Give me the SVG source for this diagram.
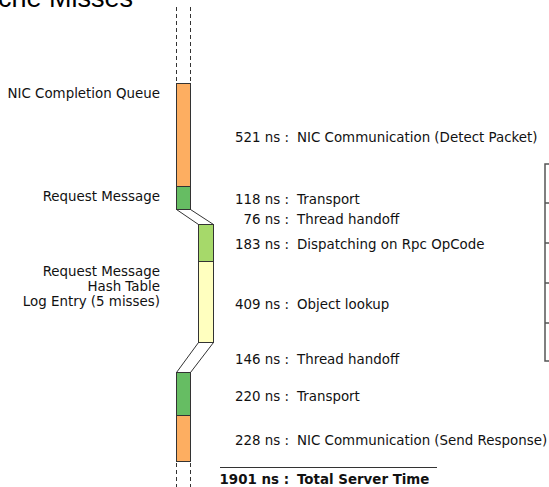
<svg xmlns="http://www.w3.org/2000/svg" width="549" height="487" viewBox="0 0 549 487">
<style>
.t{font-family:"DejaVu Sans",sans-serif;font-size:13.4px;fill:#111}
.b{font-weight:bold}
.e{text-anchor:end}
.box{stroke:#333;stroke-width:1}
.dash{stroke:#333;stroke-width:1;stroke-dasharray:4 3;fill:none}
.link{fill:#fff;stroke:#333;stroke-width:1}
.br{fill:none;stroke:#555;stroke-width:1.5}
</style>
<rect width="549" height="487" fill="#fff"/>
<text x="133" y="7" style="font-family:'Liberation Sans',Arial,sans-serif;font-size:27px;fill:#000;text-anchor:end">Cache Misses</text>
<g id="timeline-dashes">
<line class="dash" x1="176.5" y1="7" x2="176.5" y2="82"/>
<line class="dash" x1="190.5" y1="7" x2="190.5" y2="82"/>
<line class="dash" x1="176.5" y1="463" x2="176.5" y2="487"/>
<line class="dash" x1="190.5" y1="463" x2="190.5" y2="487"/>
</g>
<g id="connectors">
<path class="link" d="M176.5,209.5 L190.5,209.5 L213.5,224.5 L198.5,224.5 Z"/>
<path class="link" d="M198.5,342.5 L213.5,342.5 L190.5,372.5 L176.5,372.5 Z"/>
</g>
<g id="nic-detect"><rect class="box" x="176.5" y="83.5" width="14" height="103" fill="#fdae61"/></g>
<g id="transport-1"><rect class="box" x="176.5" y="186.5" width="14" height="23" fill="#66bd63"/></g>
<g id="dispatch"><rect class="box" x="198.5" y="224.5" width="15" height="37" fill="#a6d96a"/></g>
<g id="lookup"><rect class="box" x="198.5" y="261.5" width="15" height="81" fill="#ffffbf"/></g>
<g id="transport-2"><rect class="box" x="176.5" y="372.5" width="14" height="43" fill="#66bd63"/></g>
<g id="nic-send"><rect class="box" x="176.5" y="415.5" width="14" height="46" fill="#fdae61"/></g>
<g id="left-labels">
<text class="t e" x="160" y="98">NIC Completion Queue</text>
<text class="t e" x="160" y="201">Request Message</text>
<text class="t e" x="160" y="276">Request Message</text>
<text class="t e" x="160" y="291">Hash Table</text>
<text class="t e" x="160" y="306">Log Entry (5 misses)</text>
</g>
<g id="right-labels">
<text class="t e" x="289" y="142">521 ns :</text><text class="t" x="297" y="142">NIC Communication (Detect Packet)</text>
<text class="t e" x="289" y="204">118 ns :</text><text class="t" x="297" y="204">Transport</text>
<text class="t e" x="289" y="224">76 ns :</text><text class="t" x="297" y="224">Thread handoff</text>
<text class="t e" x="289" y="249">183 ns :</text><text class="t" x="297" y="249">Dispatching on Rpc OpCode</text>
<text class="t e" x="289" y="309">409 ns :</text><text class="t" x="297" y="309">Object lookup</text>
<text class="t e" x="289" y="364">146 ns :</text><text class="t" x="297" y="364">Thread handoff</text>
<text class="t e" x="289" y="401">220 ns :</text><text class="t" x="297" y="401">Transport</text>
<text class="t e" x="289" y="445">228 ns :</text><text class="t" x="297" y="445">NIC Communication (Send Response)</text>
<line x1="220" y1="467.5" x2="437" y2="467.5" stroke="#333" stroke-width="1"/>
<text class="t b e" x="289" y="484">1901 ns :</text><text class="t b" x="297" y="484">Total Server Time</text>
</g>
<g id="bracket">
<path class="br" d="M550,164 L545,164 L545,361 L550,361 M545,203 L550,203 M545,243 L550,243 M545,283 L550,283 M545,323 L550,323"/>
</g>
</svg>
